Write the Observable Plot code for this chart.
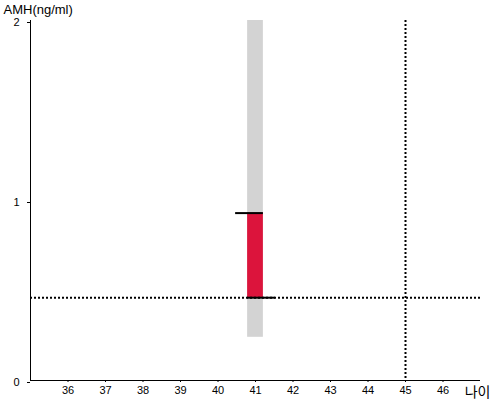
<!DOCTYPE html>
<html><head><meta charset="utf-8">
<script src="https://cdn.jsdelivr.net/npm/d3@7"></script>
<script src="https://cdn.jsdelivr.net/npm/@observablehq/plot@0.6"></script>
<style>body{margin:0;background:#fff;} svg{font-family:"Liberation Sans",Arial,sans-serif;}</style>
</head><body><div id="chart"></div>
<script>
const ages = [41];
const rangeLow = [0.24];
const rangeHigh = [2];
const amhLow = [0.46];
const amhHigh = [0.93];
const refAge = [45];
const refAmh = [0.46];
const xTicks = [36, 37, 38, 39, 40, 41, 42, 43, 44, 45, 46];
const yTicks = [0, 1, 2];

const rows = ages.map((a, i) => ({age: a, lo: rangeLow[i], hi: rangeHigh[i], vLo: amhLow[i], vHi: amhHigh[i]}));
const hw = 0.21;

const chart = Plot.plot({
  width: 500, height: 400,
  marginLeft: 30, marginRight: 20, marginTop: 20, marginBottom: 20,
  x: {domain: [35, 47]},
  y: {domain: [0, 2]},
  style: {fontSize: "11px", color: "#000", background: "#fff"},
  marks: [
    Plot.rect(rows, {x1: d => d.age - hw, x2: d => d.age + hw, y1: "lo", y2: "hi", fill: "#d3d3d3"}),
    Plot.rect(rows, {x1: d => d.age - hw, x2: d => d.age + hw, y1: "vLo", y2: "vHi", fill: "#dc143c"}),
    Plot.ruleY(rows, {y: "vHi", x1: d => d.age - 0.53, x2: d => d.age + hw, stroke: "#000", strokeWidth: 2}),
    Plot.ruleY(refAmh, {y: d => d, stroke: "#000", strokeWidth: 2, strokeDasharray: "2,2"}),
    Plot.ruleX(refAge, {x: d => d, stroke: "#000", strokeWidth: 2, strokeDasharray: "2,2"}),
    Plot.ruleY(rows, {y: "vLo", x1: d => d.age - hw, x2: d => d.age + 0.53, stroke: "#000", strokeWidth: 2}),
    Plot.ruleX([35], {stroke: "#000", strokeWidth: 1}),
    Plot.ruleY([0], {stroke: "#000", strokeWidth: 1}),
    Plot.axisX(xTicks, {tickSize: 2, tickPadding: 4, label: null, fontSize: 11}),
    Plot.axisY(yTicks, {tickSize: 3, tickPadding: 8, tickFormat: "d", label: null, fontSize: 11, dy: 2}),
    Plot.text(["AMH(ng/ml)"], {frameAnchor: "top-left", dx: -27, dy: -11, textAnchor: "start", lineAnchor: "middle", fontSize: 13}),
    Plot.text(["나이"], {frameAnchor: "bottom-right", dx: 10, dy: 12, textAnchor: "end", lineAnchor: "middle", fontSize: 14, fontFamily: "Noto Sans CJK KR"})
  ]
});
document.getElementById("chart").appendChild(chart);
</script></body></html>
